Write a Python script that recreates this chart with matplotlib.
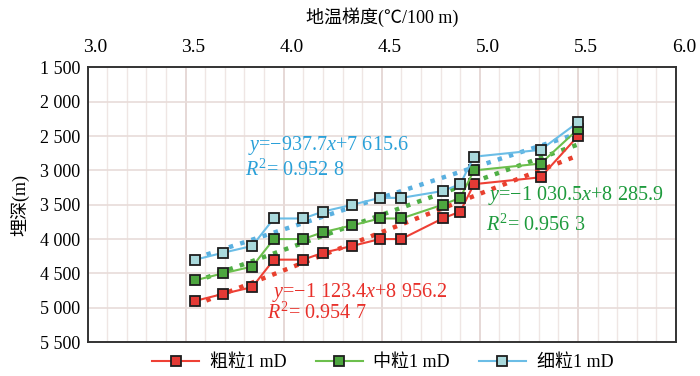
import numpy as np
import matplotlib
matplotlib.use("Agg")
import matplotlib.pyplot as plt
from matplotlib.transforms import ScaledTranslation
from matplotlib.ticker import MultipleLocator, FormatStrFormatter, FixedLocator, FixedFormatter

plt.rcParams.update({
    "font.family":        ["Liberation Serif", "Noto Sans CJK SC"],
    "mathtext.fontset":   "custom",
    "mathtext.rm":        "Liberation Serif",
    "mathtext.it":        "Liberation Serif:italic",
    "axes.unicode_minus": True,
})

# geothermal gradient (°C/100 m) and burial depth (m)
gradient = [3.55, 3.69, 3.84, 3.95, 4.10, 4.20, 4.35, 4.49, 4.60,
            4.81, 4.90, 4.97, 5.31, 5.50]
depth_coarse = [4900, 4800, 4700, 4300, 4300, 4200, 4100, 4000, 4000,
                3700, 3600, 3200, 3100, 2500]
depth_medium = [4600, 4500, 4400, 4000, 4000, 3900, 3800, 3700, 3700,
                3500, 3400, 3000, 2900, 2400]
depth_fine   = [4300, 4200, 4100, 3700, 3700, 3600, 3500, 3400, 3400,
                3300, 3200, 2800, 2700, 2300]

labels = ["粗粒1 mD", "中粒1 mD", "细粒1 mD"]
eq_text = ["$y$=−1 123.4$x$+8 956.2", "$y$=−1 030.5$x$+8 285.9", "$y$=−937.7$x$+7 615.6"]
r2_text = ["$R^2$= 0.954 7", "$R^2$= 0.956 3", "$R^2$= 0.952 8"]
x_ticks = [3.0, 3.5, 4.0, 4.5, 5.0, 5.5, 6.0]
y_ticks = [1500, 2000, 2500, 3000, 3500, 4000, 4500, 5000, 5500]
y_ticklabels = ["1 500", "2 000", "2 500", "3 000", "3 500", "4 000", "4 500", "5 000", "5 500"]

line_colors = ["#ee4035", "#6cbf4c", "#6bbde6"]
face_colors = ["#e53a35", "#4da63f", "#a9d9dc"]
trend_colors = ["#e8402e", "#4fae45", "#5ab0e0"]
text_colors = ["#e8302a", "#1d9a3c", "#2aa0d8"]
# (x, y) of equation text, in data units
eq_pos = [(3.94, 4775), (5.04, 3370), (3.82, 2630)]
r2_pos = [(3.915, 5085), (5.03, 3800), (3.805, 3000)]

fig = plt.figure(figsize=(7.0, 3.76), dpi=100)
ax = fig.add_axes([0.125, 0.0904, 0.8407, 0.7301])

x = np.array(gradient)
series = [depth_coarse, depth_medium, depth_fine]
for i, dep in enumerate(series):
    ax.plot(x, dep, "-s", color=line_colors[i], lw=1.5,
            markerfacecolor=face_colors[i], markeredgecolor="#1e1e1e",
            markeredgewidth=1.3, markersize=7.5, label=labels[i], zorder=4)
    k, b = np.polyfit(x, dep, 1)
    xs = np.array([x.min(), x.max()])
    ax.plot(xs, k * xs + b, ":", color=trend_colors[i], lw=3.2, zorder=3)
    ax.text(*eq_pos[i], eq_text[i], color=text_colors[i], fontsize=14.5,
            va="center", ha="left", zorder=5)
    ax.text(*r2_pos[i], r2_text[i], color=text_colors[i], fontsize=14.5,
            va="center", ha="left", zorder=5)

ax.set_xlim(3.0, 6.0)
ax.set_ylim(5500, 1500)
ax.xaxis.set_major_locator(FixedLocator(x_ticks))
ax.xaxis.set_major_formatter(FormatStrFormatter("%.1f"))
ax.xaxis.set_minor_locator(MultipleLocator(0.1))
ax.yaxis.set_major_locator(FixedLocator(y_ticks))
ax.yaxis.set_major_formatter(FixedFormatter(y_ticklabels))
ax.grid(True, which="minor", axis="x", color="#efe6e4", lw=1.0)
ax.grid(True, which="major", axis="x", color="#e4d6d3", lw=1.3)
ax.grid(True, which="major", axis="y", color="#e8dcd9", lw=1.2)
ax.set_axisbelow(True)

ax.xaxis.tick_top()
ax.xaxis.set_label_position("top")
ax.tick_params(axis="x", which="both", length=0, pad=8, labelsize=14)
ax.tick_params(axis="y", length=0, pad=5, labelsize=13)
for lab in ax.get_xticklabels():
    lab.set_transform(lab.get_transform() + ScaledTranslation(0.08, 0, fig.dpi_scale_trans))

ax.set_xlabel("地温梯度(℃/100 m)", fontsize=13, labelpad=12)
ax.set_ylabel("埋深(m)", fontsize=13, labelpad=7)
for s in ax.spines.values():
    s.set_color("#333333")
    s.set_linewidth(1.4)

fig.legend(loc="center", bbox_to_anchor=(0.547, 0.036), ncol=3, frameon=False,
           fontsize=13, handlelength=2.6, columnspacing=1.6, handletextpad=0.6)

fig.savefig("out.png", dpi=100)
